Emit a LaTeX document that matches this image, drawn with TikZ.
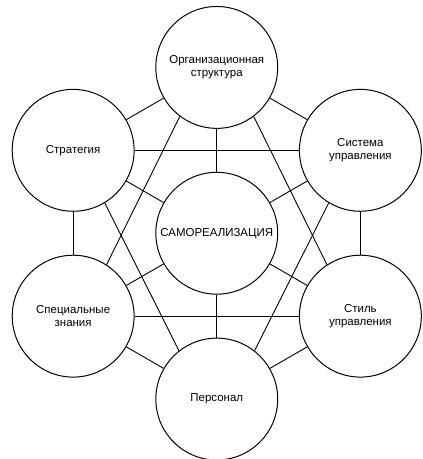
\documentclass[tikz,border=0pt]{standalone}
\usepackage{fontspec}
\setmainfont{Liberation Sans}

\begin{document}
\begin{tikzpicture}[x=1pt,y=1pt,thick,
		base node/.style={circle,draw,line width=1pt,minimum size=122pt,inner sep=0pt,align=center,font=\fontsize{11.5}{13}\selectfont},
		link/.style={draw,line width=0.9pt}]
		\useasboundingbox (-217,-226) rectangle (206,233.5);
		% центр и шесть кругов вокруг
		\node[base node] (self) at (0,0) {САМОРЕАЛИЗАЦИЯ};
		\node[base node] (org) at (90:166) {Организационная\\структура};
		\node[base node] (sys) at (30:166) {Система\\управления};
		\node[base node] (stil) at (-30:166) {Стиль\\управления};
		\node[base node] (pers) at (-90:166) {Персонал};
		\node[base node] (spec) at (210:166) {Специальные\\знания};
		\node[base node] (strat) at (150:166) {Стратегия};
		\path[link]
		(org) edge (sys)
		(sys) edge (stil)
		(stil) edge (pers)
		(pers) edge (spec)
		(spec) edge (strat)
		(strat) edge (org)
		(self) edge (org)
		(self) edge (sys)
		(self) edge (stil)
		(self) edge (pers)
		(self) edge (spec)
		(self) edge (strat)
		(strat) edge (sys)
		(spec) edge (stil)
		(org.233) edge (spec.57)
		(org.307) edge (stil.123)
		(strat.301) edge (pers.128)
		(sys.239) edge (pers.52);
\end{tikzpicture}
\end{document}
